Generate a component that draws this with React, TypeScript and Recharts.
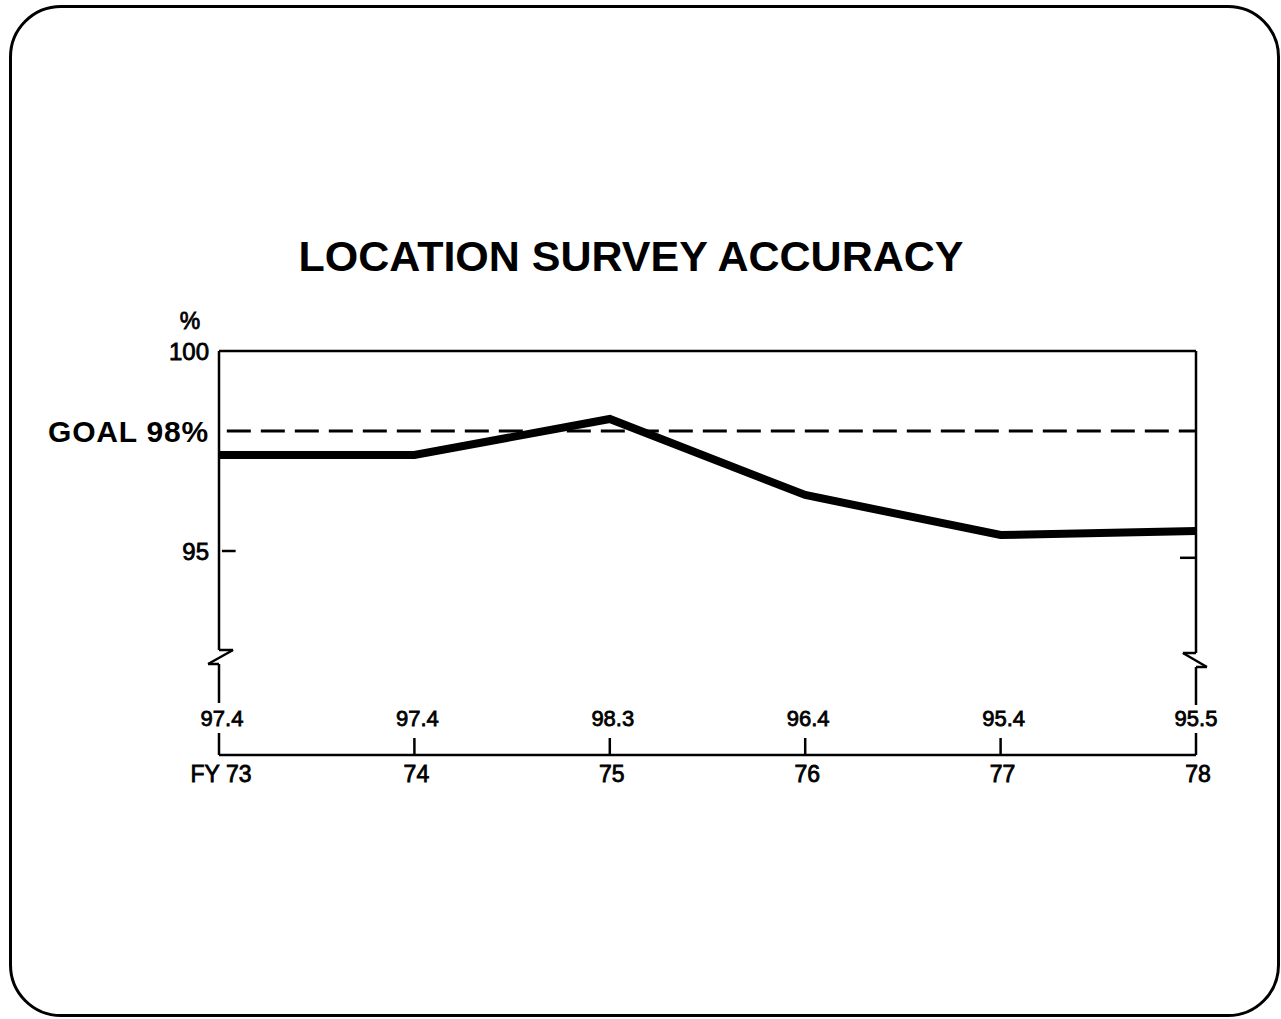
import React from 'react';
import { LineChart, Line, XAxis, YAxis, ReferenceLine } from 'recharts';

// chart values
const years = [73, 74, 75, 76, 77, 78];
const yearLabels = ['FY 73', '74', '75', '76', '77', '78'];
const accuracy = [97.4, 97.4, 98.3, 96.4, 95.4, 95.5];
const goal = 98;
const yTicks = [95, 98, 100];

const data = years.map((year, i) => ({ year, accuracy: accuracy[i] }));

const FONT = '"Liberation Sans", Arial, Helvetica, sans-serif';
const W = 1281;
const H = 1019;
const Y_DOMAIN: [number, number] = [89.9, 100];

// frame pieces (axis breaks, ends), drawn in data units
type Pt = { x: number; y: number };
const frame: [Pt, Pt][] = [
  // top edge
  [{ x: 73, y: 100 }, { x: 78, y: 100 }],
  // left edge with break
  [{ x: 73, y: 100 }, { x: 73, y: 92.525 }],
  [{ x: 73, y: 92.525 }, { x: 73.072, y: 92.525 }],
  [{ x: 73.072, y: 92.525 }, { x: 72.944, y: 92.175 }],
  [{ x: 72.944, y: 92.175 }, { x: 73, y: 92.175 }],
  [{ x: 73, y: 92.175 }, { x: 73, y: 91.2 }],
  // right edge with break
  [{ x: 78, y: 100 }, { x: 78, y: 92.45 }],
  [{ x: 78, y: 92.45 }, { x: 77.933, y: 92.45 }],
  [{ x: 77.933, y: 92.45 }, { x: 78.056, y: 92.1 }],
  [{ x: 78.056, y: 92.1 }, { x: 78, y: 92.1 }],
  [{ x: 78, y: 92.1 }, { x: 78, y: 91.15 }],
  // 95 ticks (inward)
  [{ x: 73.015, y: 95 }, { x: 73.085, y: 95 }],
  [{ x: 77.918, y: 94.83 }, { x: 78, y: 94.83 }],
];

const YTick = (props: any) => {
  const { x, y, payload } = props;
  const v = payload.value;
  if (v === goal) {
    return (
      <text x={x} y={y} dy="0.36em" textAnchor="end" fontFamily={FONT} fontSize={30} fontWeight="bold" fill="#000" letterSpacing={0.8}>
        GOAL {goal}%
      </text>
    );
  }
  return (
    <g>
      {v === 100 && (
        <text x={x - 19} y={y - 30} dy="0.36em" textAnchor="middle" fontFamily={FONT} fontSize={23} fill="#000" stroke="#000" strokeWidth={0.8}>
          %
        </text>
      )}
      <text x={x} y={y} dy="0.36em" textAnchor="end" fontFamily={FONT} fontSize={24} fill="#000" stroke="#000" strokeWidth={0.8}>
        {v}
      </text>
    </g>
  );
};

const XTick = (props: any) => {
  const { x, y, payload } = props;
  const i = years.indexOf(payload.value);
  const end = i === 0 || i === years.length - 1;
  return (
    <g>
      <line x1={x} x2={x} y1={y - (end ? 22 : 17)} y2={y} stroke="#000" strokeWidth={2.5} />
      <text x={i === years.length - 1 ? x : x + 3} y={y - 29} textAnchor="middle" fontFamily={FONT} fontSize={22} fill="#000" stroke="#000" strokeWidth={0.8}>
        {accuracy[i]}
      </text>
      <text x={x + 2} y={y + 27} textAnchor="middle" fontFamily={FONT} fontSize={23} fill="#000" stroke="#000" strokeWidth={0.8}>
        {yearLabels[i]}
      </text>
    </g>
  );
};

export default function App() {
  return (
    <div style={{ position: 'absolute', left: 0, top: 0, width: W, height: H, background: '#fff', overflow: 'hidden' }}>
      {/* rounded frame */}
      <div
        style={{
          position: 'absolute',
          left: 9,
          top: 5,
          width: 1271,
          height: 1012,
          border: '3px solid #000',
          borderRadius: 52,
          boxSizing: 'border-box',
        }}
      />
      <div
        style={{
          position: 'absolute',
          left: 0,
          width: 1262,
          top: 235,
          textAlign: 'center',
          fontFamily: FONT,
          fontWeight: 'bold',
          fontSize: 43,
          lineHeight: '42px',
        }}
      >
        LOCATION SURVEY ACCURACY
      </div>
      <div style={{ position: 'absolute', left: 0, top: 0 }}>
        <LineChart width={W} height={H} data={data} margin={{ top: 351, right: 85, bottom: 224, left: 159 }}>
          <XAxis
            dataKey="year"
            type="number"
            domain={[73, 78]}
            ticks={years}
            height={40}
            tickSize={0}
            tickMargin={0}
            tickLine={false}
            axisLine={{ stroke: '#000', strokeWidth: 2.5 }}
            tick={<XTick />}
          />
          <YAxis
            domain={Y_DOMAIN}
            ticks={yTicks}
            width={60}
            tickSize={0}
            tickMargin={10}
            tickLine={false}
            axisLine={false}
            tick={<YTick />}
          />
          {frame.map((seg, i) => (
            <ReferenceLine key={`f-${i}`} segment={seg} ifOverflow="visible" stroke="#000" strokeWidth={2.5} />
          ))}
          <ReferenceLine
            segment={[{ x: 73.04, y: goal }, { x: 78, y: goal }]}
            ifOverflow="visible"
            stroke="#000"
            strokeWidth={3}
            strokeDasharray="24 10"
          />
          <Line
            type="linear"
            dataKey="accuracy"
            stroke="#000"
            strokeWidth={8}
            strokeLinejoin="miter"
            dot={false}
            isAnimationActive={false}
          />
        </LineChart>
      </div>
    </div>
  );
}
